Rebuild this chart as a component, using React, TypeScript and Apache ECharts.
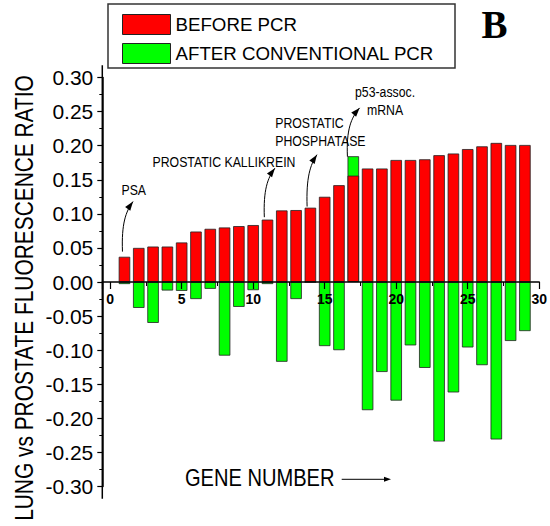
import React, { useEffect, useRef } from 'react';
import * as echarts from 'echarts';

const GENES = [1, 2, 3, 4, 5, 6, 7, 8, 9, 10, 11, 12, 13, 14, 15, 16, 17, 18, 19, 20, 21, 22, 23, 24, 25, 26, 27, 28, 29];
const BEFORE_PCR = [0.037, 0.050, 0.052, 0.052, 0.058, 0.074, 0.078, 0.080, 0.082, 0.0835, 0.0915, 0.105, 0.1055, 0.109, 0.125, 0.142, 0.156, 0.1665, 0.1665, 0.179, 0.179, 0.180, 0.186, 0.1885, 0.195, 0.199, 0.204, 0.201, 0.201];
const AFTER_PCR = [-0.003, -0.038, -0.060, -0.0125, -0.013, -0.025, -0.010, -0.108, -0.0365, -0.012, -0.003, -0.117, -0.025, 0, -0.094, -0.100, 0.1845, -0.188, -0.132, -0.174, -0.093, -0.126, -0.234, -0.162, -0.096, -0.122, -0.231, -0.0865, -0.072];
const SERIES_NAMES = ['BEFORE PCR', 'AFTER CONVENTIONAL PCR'];
const Y_TITLE = 'LUNG vs PROSTATE FLUORESCENCE RATIO';
const X_TITLE = 'GENE NUMBER';
const Y_MIN = -0.3;
const Y_MAX = 0.3;

// annotation anchors in data units: text position, arrow start, arrow tip
const ANNOTATIONS = [
  { lines: ['PSA'], text: [0.79, 0.1346], align: 'left', from: [0.86, 0.0446], to: [1.6, 0.118] },
  { lines: ['PROSTATIC KALLIKREIN'], text: [7.96, 0.1765], align: 'center', from: [10.78, 0.0951], to: [11.52, 0.167] },
  { lines: ['PROSTATIC', 'PHOSPHATASE'], text: [11.54, 0.2334], align: 'left', from: [13.77, 0.1107], to: [14.46, 0.1868] },
  { lines: ['p53-assoc.', 'mRNA'], text: [19.22, 0.278], align: 'center', from: [16.59, 0.1838], to: [17.44, 0.2554] },
];

const SANS = "'Liberation Sans', Arial, sans-serif";
const SQUEEZE = 0.82;

export default function App() {
  const ref = useRef<HTMLDivElement>(null);
  useEffect(() => {
    const el = ref.current!;
    const chart = echarts.init(el, null, { renderer: 'svg', width: 550, height: 526 });
    const gridTop = 77.5;
    const gridBottom = 39.5;
    const gridH = 526 - gridTop - gridBottom;
    const zeroOffset = -gridH * (0 - Y_MIN) / (Y_MAX - Y_MIN);
    const option: any = {
      animation: false,
      backgroundColor: '#fff',
      grid: { left: 102.3, right: 6, top: gridTop, bottom: gridBottom, containLabel: false },
      legend: {
        data: SERIES_NAMES,
        orient: 'vertical',
        left: 122,
        top: 14,
        padding: 0,
        itemWidth: 48,
        itemHeight: 20,
        itemGap: 8,
        icon: 'rect',
        itemStyle: { borderColor: '#222', borderWidth: 1 },
        textStyle: { fontSize: 18.7, fontFamily: SANS, color: '#000' },
      },
      xAxis: {
        type: 'value',
        min: -0.55,
        max: 30,
        splitNumber: 6,
        z: 5,
        position: 'bottom',
        offset: zeroOffset,
        splitLine: { show: false },
        axisLine: { onZero: false, lineStyle: { color: '#000', width: 1.5 } },
        axisTick: { show: true, length: 7, lineStyle: { color: '#000', width: 1.2 } },
        minorTick: { show: true, splitNumber: 2, length: 4, lineStyle: { color: '#000', width: 1 } },
        axisLabel: {
          margin: 10,
          fontSize: 14,
          fontWeight: 'bold',
          fontFamily: SANS,
          color: '#000',
          formatter: (v: number) => (Math.abs(v - Math.round(v)) < 1e-6 && Math.round(v) % 5 === 0 ? String(Math.round(v)) : ''),
        },
      },
      yAxis: {
        type: 'value',
        min: Y_MIN,
        max: Y_MAX,
        interval: 0.05,
        splitLine: { show: false },
        axisLine: { onZero: false, lineStyle: { color: '#000', width: 1.5 } },
        axisTick: { show: true, length: 5, lineStyle: { color: '#000', width: 1.2 } },
        minorTick: { show: true, splitNumber: 2, length: 3, lineStyle: { color: '#000', width: 1 } },
        axisLabel: {
          margin: 9,
          fontSize: 21,
          fontFamily: SANS,
          color: '#000',
          formatter: (v: number) => v.toFixed(2),
        },
      },
      series: [
        {
          name: SERIES_NAMES[1],
          type: 'bar',
          barWidth: 11.5,
          barGap: '-100%',
          itemStyle: { color: '#00ff00', borderColor: '#222', borderWidth: 0.8 },
          data: GENES.map((g, i) => [g, AFTER_PCR[i]]),
          z: 2,
        },
        {
          name: SERIES_NAMES[0],
          type: 'bar',
          barWidth: 11.5,
          barGap: '-100%',
          itemStyle: { color: '#ff0000', borderColor: '#222', borderWidth: 0.8 },
          data: GENES.map((g, i) => [g, BEFORE_PCR[i]]),
          z: 3,
        },
      ],
    };
    chart.setOption(option);

    const P = (x: number, y: number) => chart.convertToPixel({ seriesIndex: 0 }, [x, y]) as number[];
    const arrowHead = (tip: number[], from: number[], len: number, half: number) => {
      const dx = tip[0] - from[0];
      const dy = tip[1] - from[1];
      const d = Math.sqrt(dx * dx + dy * dy) || 1;
      const ux = dx / d, uy = dy / d;
      const bx = tip[0] - ux * len, by = tip[1] - uy * len;
      return {
        type: 'polygon',
        shape: { points: [tip, [bx - uy * half, by + ux * half], [bx + uy * half, by - ux * half]] },
        style: { fill: '#000' },
        z: 10,
      };
    };

    const g: any[] = [];
    // legend box
    g.push({ type: 'rect', shape: { x: 108, y: 4, width: 347, height: 64 }, style: { fill: 'none', stroke: '#333', lineWidth: 1.5 }, z: 10 });
    // panel letter
    g.push({ type: 'text', x: 494.5, y: 24, style: { text: 'B', fontSize: 39, fontWeight: 'bold', fontFamily: "'Liberation Serif', 'Times New Roman', serif", fill: '#000', align: 'center', verticalAlign: 'middle' }, z: 10 });
    // y axis title
    g.push({ type: 'text', x: 24, y: 298, rotation: Math.PI / 2, scaleX: SQUEEZE, style: { text: Y_TITLE, fontSize: 25.5, fontFamily: SANS, fill: '#000', align: 'center', verticalAlign: 'middle' }, z: 10 });
    // x title with arrow
    g.push({ type: 'text', x: 185, y: 478, scaleX: SQUEEZE, style: { text: X_TITLE, fontSize: 24.5, fontFamily: SANS, fill: '#000', align: 'left', verticalAlign: 'middle' }, z: 10 });
    g.push({ type: 'line', shape: { x1: 341.7, y1: 479.3, x2: 385, y2: 479.3 }, style: { stroke: '#000', lineWidth: 1 }, z: 10 });
    g.push(arrowHead([391, 479.3], [380, 479.3], 7, 2.5));
    // y axis extension above / below the tick range
    const top = P(-0.55, 0.318);
    const bot = P(-0.55, -0.318);
    g.push({ type: 'line', shape: { x1: top[0], y1: top[1], x2: bot[0], y2: bot[1] }, style: { stroke: '#000', lineWidth: 1.5 }, z: 1 });

    ANNOTATIONS.forEach((a) => {
      const tp = P(a.text[0], a.text[1]);
      a.lines.forEach((ln, i) => {
        g.push({ type: 'text', x: tp[0], y: tp[1] + i * 18, scaleX: SQUEEZE, style: { text: ln, fontSize: 15, fontFamily: SANS, fill: '#000', align: a.align, verticalAlign: 'middle' }, z: 10 });
      });
      const s = P(a.from[0], a.from[1]);
      const t = P(a.to[0], a.to[1]);
      const w = t[0] - s[0];
      const h = s[1] - t[1];
      const cp1 = [s[0] - 0.1 * w, s[1] - 0.55 * h];
      const cp2 = [s[0] + 0.3 * w, t[1] + 0.2 * h];
      g.push({ type: 'bezierCurve', shape: { x1: s[0], y1: s[1], cpx1: cp1[0], cpy1: cp1[1], cpx2: cp2[0], cpy2: cp2[1], x2: t[0], y2: t[1] }, style: { stroke: '#000', lineWidth: 1, fill: null }, z: 10 });
      g.push(arrowHead(t, cp2, 9, 3.2));
    });
    chart.setOption({ graphic: g });

    return () => chart.dispose();
  }, []);
  return <div ref={ref} style={{ position: 'fixed', left: 0, top: 0, width: 550, height: 526 }} />;
}
